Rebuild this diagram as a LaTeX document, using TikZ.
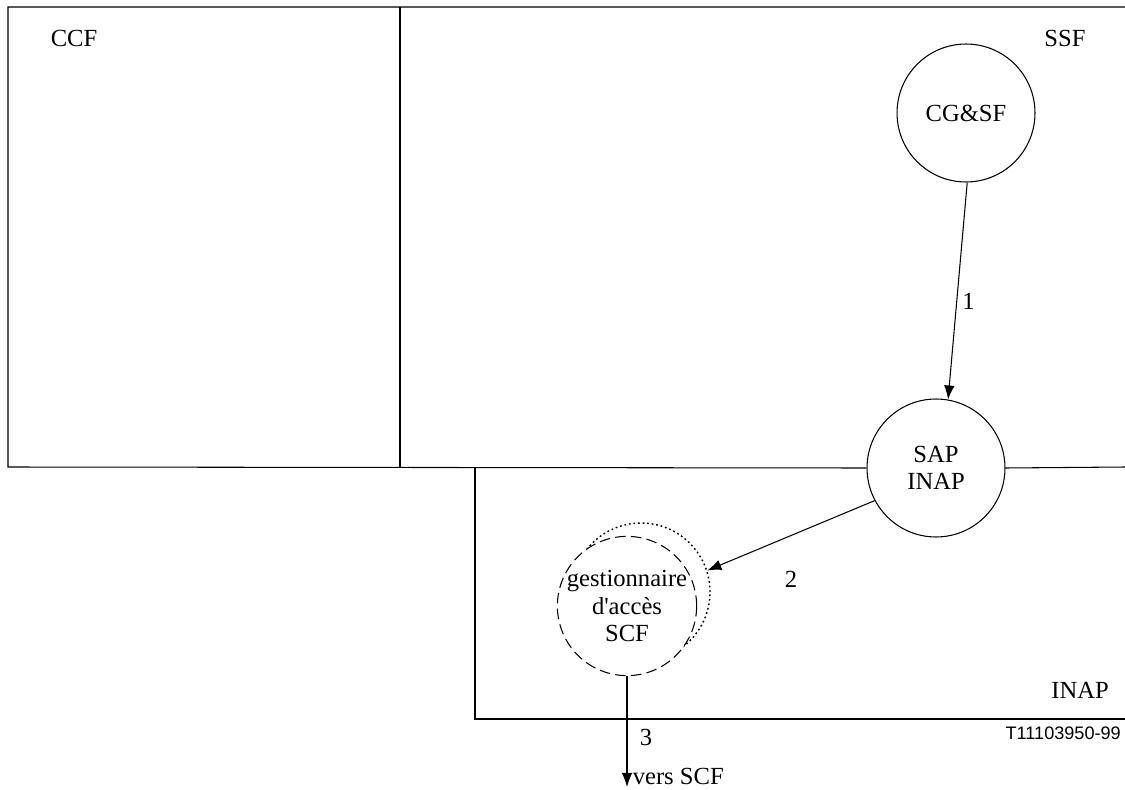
\documentclass[tikz,border=0pt]{standalone}
\usepackage{fontspec}
\setmainfont{Liberation Serif}
\newfontfamily\tagfont{Liberation Sans}
\usetikzlibrary{arrows.meta,positioning}

\begin{document}
\begin{tikzpicture}[
  x=0.02cm, y=-0.02cm,
  >={Latex[length=8pt,width=6pt]},
  line width=0.6pt,
  every node/.style={font=\fontsize{14}{15.5}\selectfont},
  fe/.style={draw, circle, minimum size=2.76cm, inner sep=0pt, align=center},
  lbl/.style={inner sep=1pt}
]
\useasboundingbox (0,0) rectangle (1125,790);
% functional entities
\node[fe] (cgsf) at (966,113) {CG\&SF};
\node[fe] (sap) at (936,468) {SAP\\INAP};
\node[fe, dash pattern=on 1pt off 1.6pt, line width=0.8pt] (twin) at (641,592) {};
\node[fe, dash pattern=on 6pt off 3pt, fill=white] (acc) at (627,606) {gestionnaire\\d\textquotesingle accès\\SCF};
% blocks
\draw (1125,7) -- (8,7) -- (8,467) -- (sap.west);
\draw (400,7) -- (400,467);
\draw (sap.east) -- (1125,467);
\draw (475,467) -- (475,719) -- (1125,719);
\node[lbl] (ccf) at (74,38) {CCF};
\node[lbl] (ssf) at (1065,38) {SSF};
\node[lbl] (inap) at (1080,690) {INAP};
\node[lbl, anchor=east, font=\tagfont\fontsize{10.3}{12}\selectfont] (tag) at (1123,733) {T11103950-99};
% flows
\coordinate (out) at (627,787);
\draw[->] (cgsf.-89) -- node[lbl, pos=0.55, right=2pt] {1} (sap.80);
\draw[->] (sap.208) -- node[lbl, pos=0.5, below=19pt] {2} (twin.18);
\draw[->] (acc.south) -- node[lbl, pos=0.55, right=6pt] {3} (out);
\node[lbl, anchor=south west] (scf) at ([xshift=2pt]out) {vers SCF};
\end{tikzpicture}
\end{document}
